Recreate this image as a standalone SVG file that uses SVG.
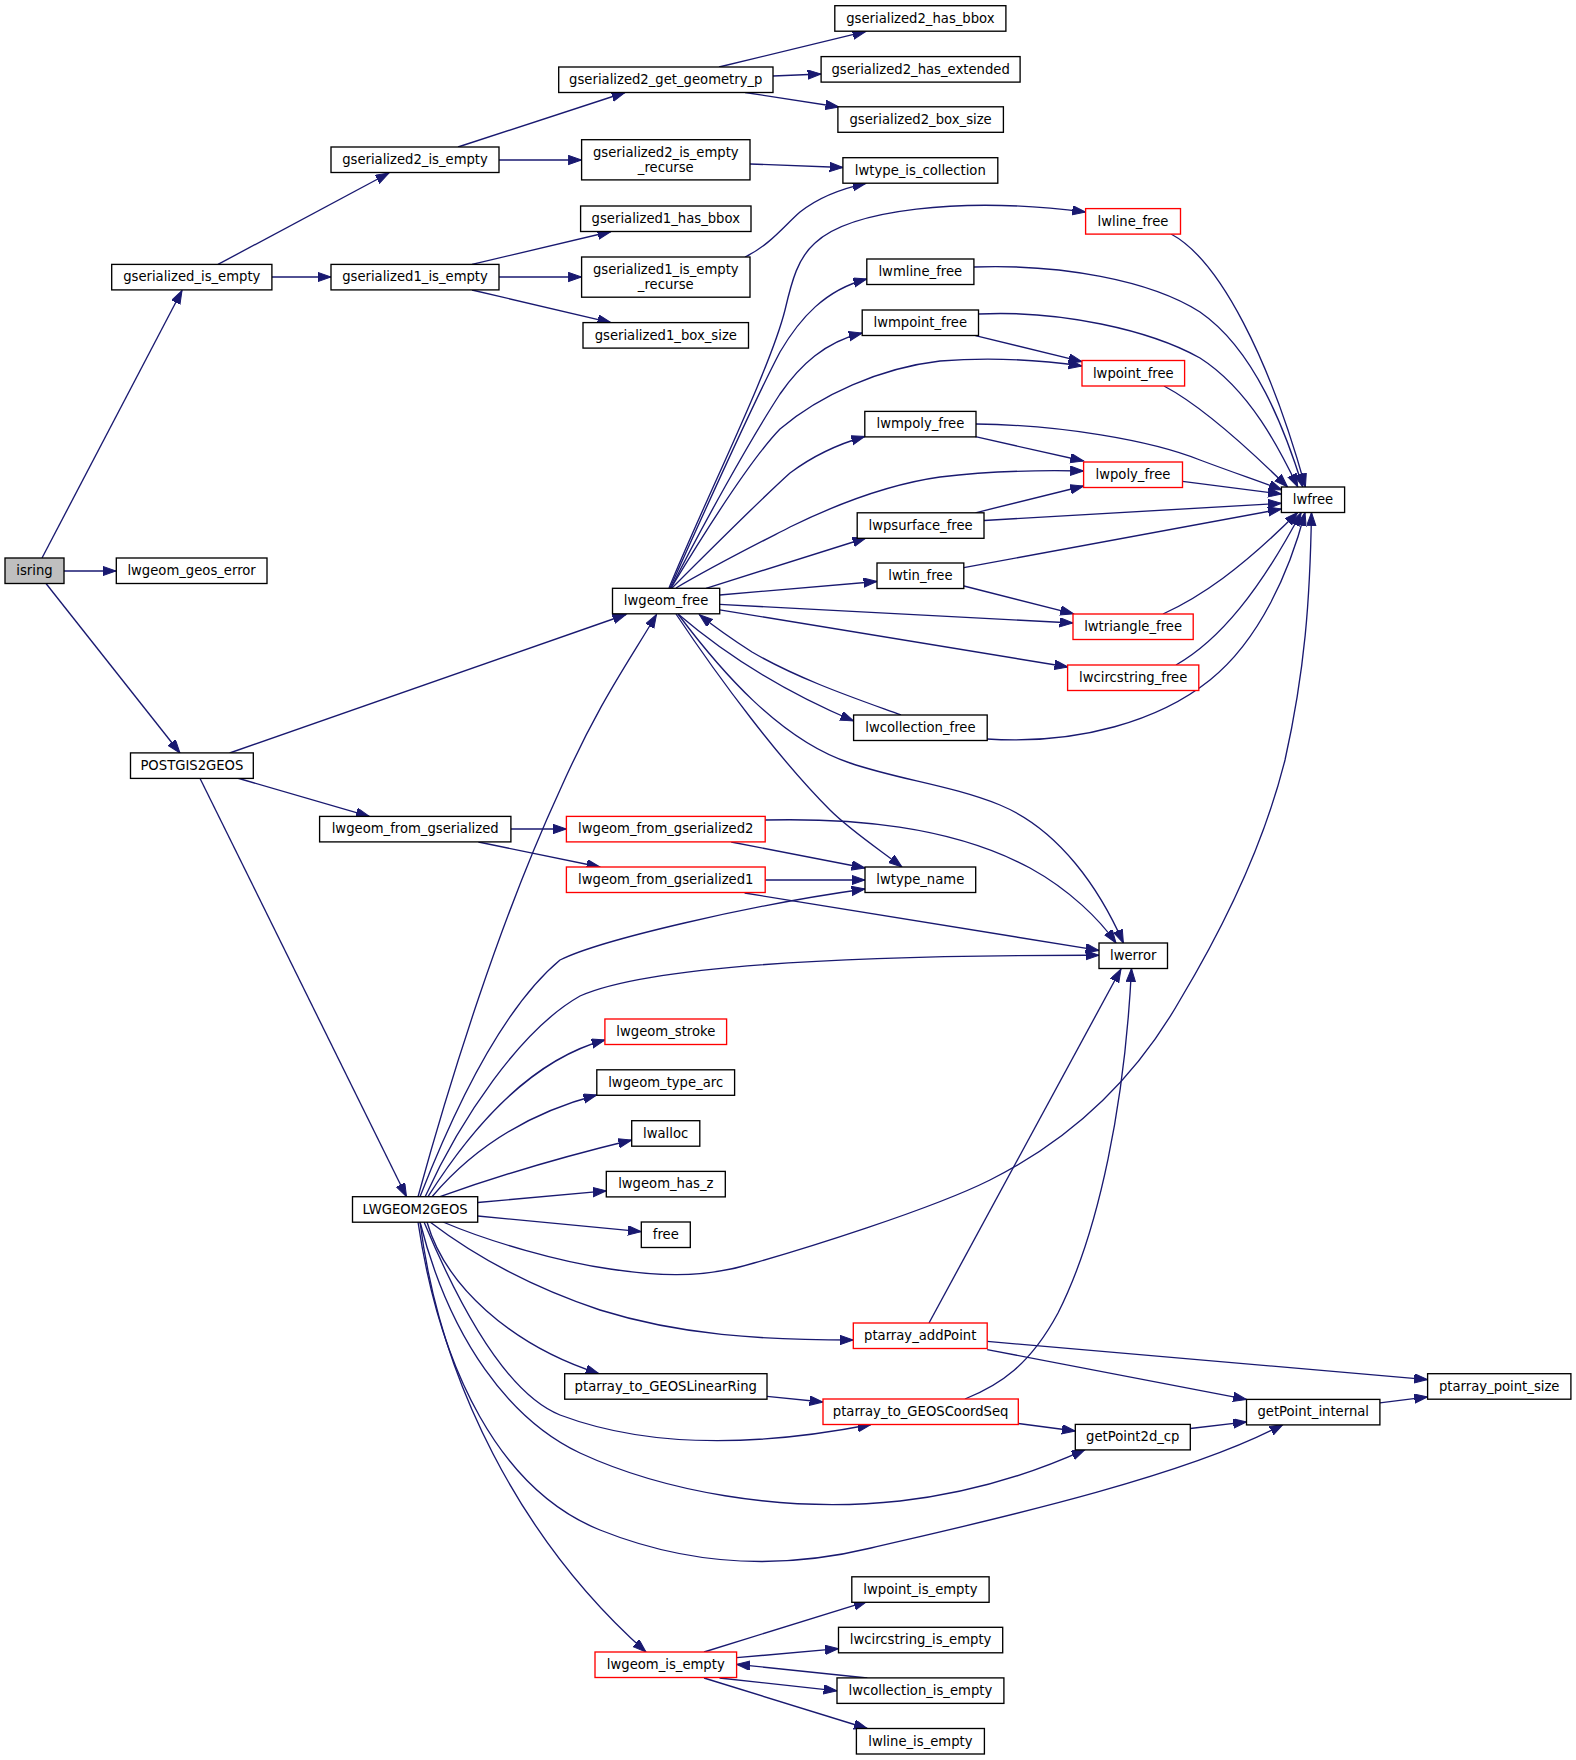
<svg xmlns="http://www.w3.org/2000/svg" width="1576" height="1760" viewBox="0 0 1576 1760">
<style>
.n rect{fill:#fff;stroke:#000;stroke-width:1.34}
.n.r rect{stroke:#ff0000}
.n.g rect{fill:#bfbfbf}
.n text{font-family:"DejaVu Sans","Liberation Sans",sans-serif;font-size:13.2px;text-anchor:middle;fill:#000}
.e path{fill:none;stroke:#191970;stroke-width:1.34;marker-end:url(#ah)}
</style>
<defs>
<marker id="ah" markerUnits="userSpaceOnUse" markerWidth="16" markerHeight="12" refX="13.4" refY="4.7" orient="auto">
<path d="M0,0 L13.4,4.7 L0,9.4 Z" fill="#191970" stroke="#191970" stroke-width="1"/>
</marker>
</defs>
<rect width="1576" height="1760" fill="#fff"/>
<g id="edges" class="e">
<path d="M42,558 L182,290.5"/>
<path d="M64,571 L116,571"/>
<path d="M46,583.5 L180,753"/>
<path d="M218,264.4 L389,173"/>
<path d="M272,277 L331,277"/>
<path d="M458,147 L625,92.5"/>
<path d="M499,160 L581.6,160"/>
<path d="M472,264.4 L611,231.5"/>
<path d="M499,277 L581.6,277"/>
<path d="M472,290 L611,322.6"/>
<path d="M719,67 L866,31.4"/>
<path d="M773,76 L821,74"/>
<path d="M745,92.5 L839,107"/>
<path d="M750,164 L843,167.5"/>
<path d="M745,257 C770,245 785,225 800,212 C815,200 835,190 866,183.3"/>
<path d="M669,588 C705,500 770,370 785,310 C792,280 798,258 815,243 C850,210 960,196 1085.6,212"/>
<path d="M670,588 C705,510 760,390 780,352 C800,318 825,290 866.8,279"/>
<path d="M671,588 C700,530 750,440 780,394 C800,365 825,342 862.2,333"/>
<path d="M671,588 C700,540 750,460 780,429 C820,395 880,368 940,361 C990,357 1040,360 1082,366"/>
<path d="M672,588 C710,550 760,500 790,473 C810,458 835,445 864.8,436.5"/>
<path d="M676,588 C715,565 755,545 790,527 C835,505 890,484 940,477 C990,471 1040,470 1083.6,471"/>
<path d="M706,588.3 L866,538"/>
<path d="M719.7,595 L877,581.5"/>
<path d="M719.7,604.4 L1073,623"/>
<path d="M719.7,609.8 L1068,667"/>
<path d="M678,614 C720,650 780,690 853.6,721"/>
<path d="M901,715 C860,700 800,680 752,652 C735,641 716,628 699.4,614.7"/>
<path d="M676,614 C720,680 780,760 830,810 C850,830 880,850 902,867"/>
<path d="M678,614 C720,670 780,740 850,763 C900,780 950,785 1000,805 C1060,830 1100,890 1123.4,943"/>
<path d="M1171,234 C1220,260 1270,360 1305.4,487"/>
<path d="M974,267 C1060,264 1150,280 1200,312 C1255,350 1285,430 1302.8,487"/>
<path d="M978.5,314 C1060,310 1150,330 1200,358 C1250,390 1280,450 1297.8,487"/>
<path d="M975.4,335.6 L1082,361.7"/>
<path d="M1164,386 C1200,405 1250,450 1287.6,487"/>
<path d="M976,424 C1060,425 1150,440 1200,460 C1240,475 1262,482 1282,490"/>
<path d="M975.4,436.7 L1083.6,461"/>
<path d="M1182.5,481.4 L1281.4,494"/>
<path d="M975.4,512.8 L1083.6,486"/>
<path d="M984,520.5 L1281.4,503.3"/>
<path d="M963.8,567.6 L1281.4,509"/>
<path d="M963.9,586 L1073.7,613.8"/>
<path d="M1163,614 C1200,597 1240,570 1297.6,512.5"/>
<path d="M1176,665 C1220,640 1260,590 1301.2,512.5"/>
<path d="M987,739 C1080,745 1160,720 1210,680 C1260,640 1290,570 1305,512.5"/>
<path d="M443,1222 C490,1242 560,1262 610,1269 C650,1275 700,1280 754,1263 C800,1250 930,1210 990,1180 C1080,1135 1140,1070 1180,1000 C1240,900 1270,820 1285,760 C1305,670 1310,600 1311.5,512.5"/>
<path d="M765,820 C850,818 950,825 1030,868 C1070,890 1100,920 1116,943"/>
<path d="M744.6,893 L1099,950.4"/>
<path d="M425,1197 C460,1120 520,1030 580,996 C650,965 850,955 1099,955.3"/>
<path d="M929,1323 L1121,969"/>
<path d="M965,1399 C1000,1385 1030,1365 1058,1313 C1100,1230 1125,1100 1131.5,968.5"/>
<path d="M229.6,753 L626,614.5"/>
<path d="M237.3,778 L369.3,816.4"/>
<path d="M199.8,778 L406.5,1196.7"/>
<path d="M511,829 L566.4,829"/>
<path d="M478.4,842 L600,867"/>
<path d="M731.2,842 L865,868"/>
<path d="M765.2,880 L865,880"/>
<path d="M418,1196.7 C450,1080 500,920 560,790 C600,700 630,660 656.5,614.5"/>
<path d="M420,1196.7 C450,1120 500,1010 560,960 C600,940 750,905 865,889"/>
<path d="M428,1196.7 C470,1130 530,1060 605,1040"/>
<path d="M432,1196.7 C480,1140 540,1110 596.8,1095"/>
<path d="M440,1196.7 C500,1175 570,1155 631.7,1140"/>
<path d="M477.7,1202.5 L606.3,1190.8"/>
<path d="M477.7,1216 L641.3,1231.7"/>
<path d="M430,1222 C480,1260 540,1290 600,1310 C680,1335 760,1340 853.3,1340"/>
<path d="M427,1222 C445,1285 510,1345 599,1373.7"/>
<path d="M424,1222 C465,1320 510,1395 560,1415 C640,1445 740,1450 871,1424.5"/>
<path d="M420,1222 C450,1340 510,1420 580,1453 C660,1490 780,1514 900,1501 C980,1492 1040,1470 1085,1449.6"/>
<path d="M418,1222 C440,1370 500,1490 600,1530 C690,1566 780,1570 871,1548 C960,1527 1180,1480 1283,1424.4"/>
<path d="M420,1222 C440,1380 520,1540 646,1652"/>
<path d="M987.2,1341.4 L1427.6,1379.6"/>
<path d="M987.2,1349.6 L1246.5,1399.4"/>
<path d="M767,1396.3 L823,1402"/>
<path d="M1018.3,1423.5 L1075.3,1431"/>
<path d="M1190.3,1428.5 L1246.5,1421.9"/>
<path d="M1379.9,1402.8 L1427.6,1396.9"/>
<path d="M704,1652 L867.3,1601.3"/>
<path d="M736.6,1657.7 L838.5,1648.7"/>
<path d="M719.5,1678 L837,1690.8"/>
<path d="M867.3,1678 L736.6,1664.3"/>
<path d="M704,1678 L867.3,1728.5"/>
</g>
<g id="node_isring" class="n g"><rect x="5" y="558" width="59" height="25.5"/><text x="34.5" y="575">isring</text></g>
<g id="node_lwgeom_geos_error" class="n"><rect x="116.3" y="558" width="150.7" height="25.5"/><text x="191.6" y="575">lwgeom_geos_error</text></g>
<g id="node_gserialized_is_empty" class="n"><rect x="111.7" y="264.4" width="160.2" height="25.5"/><text x="191.8" y="281.4">gserialized_is_empty</text></g>
<g id="node_gserialized1_is_empty" class="n"><rect x="331" y="264.4" width="168" height="25.5"/><text x="415" y="281.4">gserialized1_is_empty</text></g>
<g id="node_gserialized2_is_empty" class="n"><rect x="331" y="147" width="168" height="25.5"/><text x="415" y="164">gserialized2_is_empty</text></g>
<g id="node_gserialized2_get_geometry_p" class="n"><rect x="558.7" y="67" width="214.3" height="25.5"/><text x="665.8" y="84">gserialized2_get_geometry_p</text></g>
<g id="node_gserialized2_is_empty_recurse" class="n"><rect x="581.6" y="139.7" width="168.4" height="40.2"/><text x="665.8" y="156.9">gserialized2_is_empty</text><text x="665.8" y="171.5">_recurse</text></g>
<g id="node_gserialized1_has_bbox" class="n"><rect x="580.6" y="206" width="170.4" height="25.5"/><text x="665.8" y="223">gserialized1_has_bbox</text></g>
<g id="node_gserialized1_is_empty_recurse" class="n"><rect x="581.6" y="257" width="168.4" height="40.2"/><text x="665.8" y="274.2">gserialized1_is_empty</text><text x="665.8" y="288.8">_recurse</text></g>
<g id="node_gserialized1_box_size" class="n"><rect x="583" y="322.6" width="165.5" height="25.5"/><text x="665.8" y="339.6">gserialized1_box_size</text></g>
<g id="node_gserialized2_has_bbox" class="n"><rect x="834.8" y="5.7" width="171.1" height="25.5"/><text x="920.4" y="22.7">gserialized2_has_bbox</text></g>
<g id="node_gserialized2_has_extended" class="n"><rect x="821.1" y="56.6" width="199" height="25.5"/><text x="920.6" y="73.6">gserialized2_has_extended</text></g>
<g id="node_gserialized2_box_size" class="n"><rect x="837.9" y="106.8" width="165.5" height="25.5"/><text x="920.6" y="123.8">gserialized2_box_size</text></g>
<g id="node_lwtype_is_collection" class="n"><rect x="842.9" y="157.7" width="154.9" height="25.5"/><text x="920.3" y="174.7">lwtype_is_collection</text></g>
<g id="node_lwline_free" class="n r"><rect x="1085.6" y="208.6" width="94.9" height="25.5"/><text x="1133" y="225.6">lwline_free</text></g>
<g id="node_lwmline_free" class="n"><rect x="866.8" y="259" width="107.1" height="25.5"/><text x="920.3" y="276">lwmline_free</text></g>
<g id="node_lwmpoint_free" class="n"><rect x="862.2" y="310" width="116.3" height="25.5"/><text x="920.3" y="327">lwmpoint_free</text></g>
<g id="node_lwpoint_free" class="n r"><rect x="1082" y="360.5" width="102.6" height="25.5"/><text x="1133.3" y="377.5">lwpoint_free</text></g>
<g id="node_lwmpoly_free" class="n"><rect x="864.8" y="411.4" width="111.2" height="25.5"/><text x="920.4" y="428.4">lwmpoly_free</text></g>
<g id="node_lwpoly_free" class="n r"><rect x="1083.6" y="462" width="98.9" height="25.5"/><text x="1133" y="479">lwpoly_free</text></g>
<g id="node_lwfree" class="n"><rect x="1281.4" y="487" width="63.2" height="25.5"/><text x="1313" y="504">lwfree</text></g>
<g id="node_lwpsurface_free" class="n"><rect x="857.2" y="512.8" width="126.8" height="25.5"/><text x="920.6" y="529.8">lwpsurface_free</text></g>
<g id="node_lwtin_free" class="n"><rect x="877" y="563" width="86.8" height="25.5"/><text x="920.4" y="580">lwtin_free</text></g>
<g id="node_lwgeom_free" class="n"><rect x="612.5" y="588.3" width="107.2" height="25.5"/><text x="666.1" y="605.3">lwgeom_free</text></g>
<g id="node_lwtriangle_free" class="n r"><rect x="1073" y="614" width="120.2" height="25.5"/><text x="1133.1" y="631">lwtriangle_free</text></g>
<g id="node_lwcircstring_free" class="n r"><rect x="1067.6" y="665" width="131.2" height="25.5"/><text x="1133.2" y="682">lwcircstring_free</text></g>
<g id="node_lwcollection_free" class="n"><rect x="853.6" y="715" width="133.6" height="25.5"/><text x="920.4" y="732">lwcollection_free</text></g>
<g id="node_POSTGIS2GEOS" class="n"><rect x="130.5" y="752.9" width="122.8" height="25.5"/><text x="191.9" y="769.9">POSTGIS2GEOS</text></g>
<g id="node_lwgeom_from_gserialized" class="n"><rect x="319.6" y="816.4" width="191.3" height="25.5"/><text x="415.2" y="833.4">lwgeom_from_gserialized</text></g>
<g id="node_lwgeom_from_gserialized2" class="n r"><rect x="566.4" y="816.4" width="198.8" height="25.5"/><text x="665.8" y="833.4">lwgeom_from_gserialized2</text></g>
<g id="node_lwgeom_from_gserialized1" class="n r"><rect x="566.4" y="867" width="198.8" height="25.5"/><text x="665.8" y="884">lwgeom_from_gserialized1</text></g>
<g id="node_lwtype_name" class="n"><rect x="865" y="867" width="110.7" height="25.5"/><text x="920.3" y="884">lwtype_name</text></g>
<g id="node_lwerror" class="n"><rect x="1099" y="943" width="68.5" height="25.5"/><text x="1133.2" y="960">lwerror</text></g>
<g id="node_lwgeom_stroke" class="n r"><rect x="604.9" y="1019" width="121.7" height="25.5"/><text x="665.8" y="1036">lwgeom_stroke</text></g>
<g id="node_lwgeom_type_arc" class="n"><rect x="596.8" y="1069.8" width="137.8" height="25.5"/><text x="665.7" y="1086.8">lwgeom_type_arc</text></g>
<g id="node_lwalloc" class="n"><rect x="631.7" y="1120.7" width="68.1" height="25.5"/><text x="665.7" y="1137.7">lwalloc</text></g>
<g id="node_lwgeom_has_z" class="n"><rect x="606.3" y="1171.4" width="119" height="25.5"/><text x="665.8" y="1188.4">lwgeom_has_z</text></g>
<g id="node_LWGEOM2GEOS" class="n"><rect x="352.5" y="1196.7" width="125.2" height="25.5"/><text x="415.1" y="1213.7">LWGEOM2GEOS</text></g>
<g id="node_free" class="n"><rect x="641.3" y="1222" width="49" height="25.5"/><text x="665.8" y="1239">free</text></g>
<g id="node_ptarray_addPoint" class="n r"><rect x="853.3" y="1323" width="133.9" height="25.5"/><text x="920.2" y="1340">ptarray_addPoint</text></g>
<g id="node_ptarray_to_GEOSLinearRing" class="n"><rect x="564.7" y="1373.7" width="202.3" height="25.5"/><text x="665.8" y="1390.7">ptarray_to_GEOSLinearRing</text></g>
<g id="node_ptarray_point_size" class="n"><rect x="1427.6" y="1373.7" width="143.3" height="25.5"/><text x="1499.2" y="1390.7">ptarray_point_size</text></g>
<g id="node_ptarray_to_GEOSCoordSeq" class="n r"><rect x="823" y="1399" width="195.3" height="25.5"/><text x="920.6" y="1416">ptarray_to_GEOSCoordSeq</text></g>
<g id="node_getPoint_internal" class="n"><rect x="1246.5" y="1399.4" width="133.4" height="25.5"/><text x="1313.2" y="1416.4">getPoint_internal</text></g>
<g id="node_getPoint2d_cp" class="n"><rect x="1075.3" y="1424.4" width="115" height="25.5"/><text x="1132.8" y="1441.4">getPoint2d_cp</text></g>
<g id="node_lwpoint_is_empty" class="n"><rect x="851.8" y="1576.8" width="137.3" height="25.5"/><text x="920.4" y="1593.8">lwpoint_is_empty</text></g>
<g id="node_lwcircstring_is_empty" class="n"><rect x="838.5" y="1627.3" width="164.2" height="25.5"/><text x="920.6" y="1644.3">lwcircstring_is_empty</text></g>
<g id="node_lwgeom_is_empty" class="n r"><rect x="595" y="1652" width="141.6" height="25.5"/><text x="665.8" y="1669">lwgeom_is_empty</text></g>
<g id="node_lwcollection_is_empty" class="n"><rect x="837" y="1677.9" width="166.9" height="25.5"/><text x="920.4" y="1694.9">lwcollection_is_empty</text></g>
<g id="node_lwline_is_empty" class="n"><rect x="856.4" y="1728.5" width="128" height="25.5"/><text x="920.4" y="1745.5">lwline_is_empty</text></g>
</svg>
